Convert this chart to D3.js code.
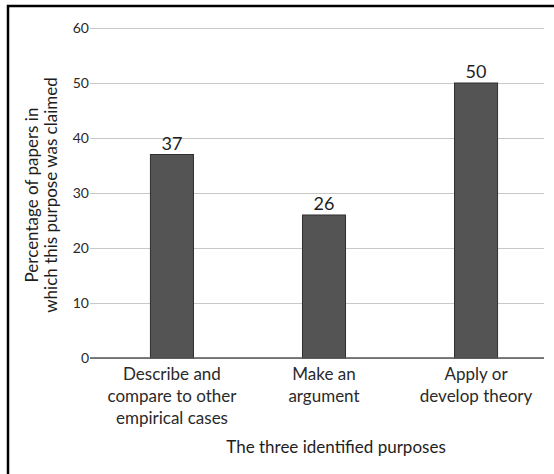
<!DOCTYPE html>
<html lang="en">
  <head>
    <meta charset="UTF-8" />
    <title>The three identified purposes</title>
    <style>
      body {
        margin: 0;
        background: #fff;
      }
      svg {
        display: block;
        font-family: Lato, 'Open Sans', sans-serif;
      }
      .bar {
        fill: #545454;
        stroke: #2e2e2e;
        stroke-width: 1px;
      }
      .value {
        font-size: 18px;
        fill: #1e1e1e;
        text-anchor: middle;
      }
      .cat {
        font-size: 17px;
        fill: #2a2a2a;
        text-anchor: middle;
      }
      .title {
        font-size: 17px;
        fill: #1e1e1e;
        text-anchor: middle;
      }
    </style>
  </head>
  <body>
    <svg width="554" height="474"></svg>
    <script src="https://cdn.jsdelivr.net/npm/d3@7"></script>
    <script>
      const categories = [
        ['Describe and', 'compare to other', 'empirical cases'],
        ['Make an', 'argument'],
        ['Apply or', 'develop theory'],
      ];
      const values = [37, 26, 50];
      const yTicks = [0, 10, 20, 30, 40, 50, 60];

      var svg = d3.select('svg'),
        plotLeft = 95,
        plotRight = 544,
        plotTop = 28,
        plotBottom = 358;

      // frame, cut off at the right and bottom
      svg.append('path')
        .attr('d', 'M8,474V6H554')
        .attr('fill', 'none')
        .attr('stroke', '#000')
        .attr('stroke-width', 2.5);

      var x = d3.scaleBand()
        .domain(d3.range(values.length))
        .range([96, 552])
        .paddingInner(0.717)
        .paddingOuter(0.358);

      var y = d3.scaleLinear().domain([0, 60]).range([plotBottom, plotTop]);

      // gridlines + tick labels
      var yAxis = svg.append('g')
        .attr('transform', 'translate(' + plotLeft + ',0)')
        .call(d3.axisLeft(y).tickValues(yTicks).tickSize(-(plotRight - plotLeft)).tickPadding(6));
      yAxis.select('.domain').remove();
      yAxis.selectAll('.tick line')
        .attr('x1', -5)
        .attr('stroke', '#c8c8c8')
        .attr('stroke-width', 1.2);
      yAxis.selectAll('.tick text')
        .attr('x', -6)
        .attr('fill', '#2a2a2a')
        .style('font-family', 'Lato, sans-serif')
        .style('font-size', '14px');

      svg.selectAll('.bar')
        .data(values)
        .enter()
        .append('rect')
        .attr('class', 'bar')
        .attr('x', (d, i) => x(i))
        .attr('width', x.bandwidth())
        .attr('y', (d) => y(d))
        .attr('height', (d) => y(0) - y(d));

      svg.selectAll('.value')
        .data(values)
        .enter()
        .append('text')
        .attr('class', 'value')
        .attr('x', (d, i) => x(i) + x.bandwidth() / 2)
        .attr('y', (d) => y(d) - 5)
        .text((d) => d);

      // zero line on top of the bars
      svg.append('line')
        .attr('x1', plotLeft - 5)
        .attr('x2', plotRight)
        .attr('y1', y(0))
        .attr('y2', y(0))
        .attr('stroke', '#555')
        .attr('stroke-width', 1.3);

      var cat = svg.selectAll('.cat')
        .data(categories)
        .enter()
        .append('text')
        .attr('class', 'cat')
        .attr('transform', (d, i) => 'translate(' + (x(i) + x.bandwidth() / 2) + ',' + (y(0) + 22) + ')');
      cat.selectAll('tspan')
        .data((d) => d)
        .enter()
        .append('tspan')
        .attr('x', 0)
        .attr('dy', (d, i) => (i ? 22 : 0))
        .text((d) => d);

      svg.append('text')
        .attr('class', 'title')
        .attr('x', 336)
        .attr('y', 453)
        .text('The three identified purposes');

      var yt = svg.append('text')
        .attr('class', 'title')
        .attr('transform', 'translate(38,195) rotate(-90)');
      yt.append('tspan').attr('x', 0).attr('dy', 0).text('Percentage of papers in');
      yt.append('tspan').attr('x', 0).attr('dy', 19).text('which this purpose was claimed');
    </script>
  </body>
</html>
